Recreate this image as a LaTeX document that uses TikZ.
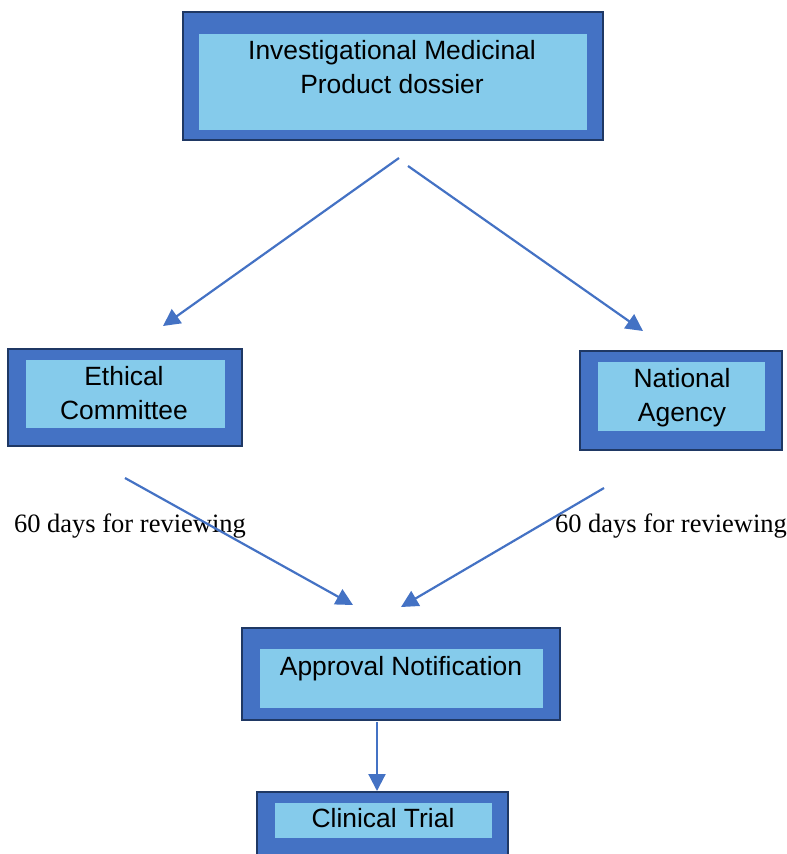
\documentclass[tikz,border=0pt]{standalone}
\usepackage{fontspec}
\setmainfont{Liberation Serif}
\setsansfont{Liberation Sans}
\usepackage{tikz}
\usetikzlibrary{
    arrows.meta
}
\definecolor{boxblue}{HTML}{4472C4}
\definecolor{boxedge}{HTML}{1F3864}
\definecolor{boxlight}{HTML}{85CBEB}
\tikzset{
    outerbox/.style={
        rectangle,
        fill=boxblue,
        draw=boxedge,
        line width=2.2pt,
        inner sep=0pt
    },
    innerbox/.style={
        rectangle,
        fill=boxlight,
        inner sep=0pt
    },
    boxtext/.style={
        anchor=north,
        align=center,
        inner sep=0pt,
        font=\sffamily\fontsize{26.4}{34}\selectfont
    },
    note/.style={
        anchor=base,
        inner sep=0pt,
        font=\rmfamily\fontsize{26.5}{32}\selectfont
    },
    arrow/.style={
        -{Triangle[length=17pt,width=17pt]},
        draw=boxblue,
        line width=2.2pt
    }
}

\begin{document}
\begin{tikzpicture}[x=1pt,y=-1pt]
\clip (0,0) rectangle (787,854);

\node[outerbox, minimum width=420, minimum height=128] (dossier) at (393,76) {};
\node[innerbox, minimum width=388, minimum height=96] (dossier-in) at (393,82) {};
\node[boxtext] (dossier-txt) at (392,40) {Investigational Medicinal\\Product dossier};

\node[outerbox, minimum width=234, minimum height=97] (ethics) at (125,397.5) {};
\node[innerbox, minimum width=199, minimum height=68] (ethics-in) at (125.5,394) {};
\node[boxtext] (ethics-txt) at (124,366) {Ethical\\Committee};

\node[outerbox, minimum width=202, minimum height=99] (agency) at (681,400.5) {};
\node[innerbox, minimum width=167, minimum height=69] (agency-in) at (681.5,396.5) {};
\node[boxtext] (agency-txt) at (682,368) {National\\Agency};

\node[outerbox, minimum width=318, minimum height=92] (approval) at (401,674) {};
\node[innerbox, minimum width=283, minimum height=59] (approval-in) at (401.5,678.5) {};
\node[boxtext] (approval-txt) at (401,656) {Approval Notification};

\node[outerbox, minimum width=251, minimum height=90] (trial) at (382.5,837) {};
\node[innerbox, minimum width=217, minimum height=35] (trial-in) at (383.5,820.5) {};
\node[boxtext] (trial-txt) at (383,808) {Clinical Trial};

\node[note] (ethics-days) at (130,532) {60 days for reviewing};
\node[note] (agency-days) at (671,532) {60 days for reviewing};

% arrow ends
\coordinate (dossier-l) at (399,158);
\coordinate (dossier-r) at (408,166);
\coordinate (ethics-top) at (163,326);
\coordinate (agency-top) at (643,331);
\coordinate (ethics-out) at (125,478);
\coordinate (agency-out) at (604,488);
\coordinate (approval-l) at (353,605);
\coordinate (approval-r) at (401,607);
\coordinate (approval-out) at (377,722);
\coordinate (trial-top) at (377,791);

\draw[arrow] (dossier-l) -- (ethics-top);
\draw[arrow] (dossier-r) -- (agency-top);
\draw[arrow] (ethics-out) -- (approval-l);
\draw[arrow] (agency-out) -- (approval-r);
\draw[arrow] (approval-out) -- (trial-top);
\end{tikzpicture}
\end{document}
